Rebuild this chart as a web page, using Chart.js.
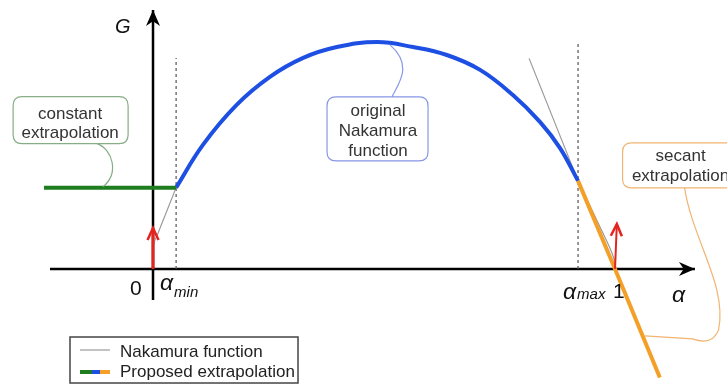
<!DOCTYPE html>
<html>
<head>
<meta charset="utf-8">
<script src="https://cdn.jsdelivr.net/npm/chart.js@4"></script>
<style>
  html, body { margin: 0; padding: 0; background: #fff; }
  #wrap { width: 727px; height: 385px; position: relative; }
</style>
</head>
<body>
<div id="wrap"><canvas id="grafico"></canvas></div>
<script>
// limites da extrapolacao
const alphaMin = 0.05;
const alphaMax = 0.92;

// funcao de Nakamura original (alpha, G)
const nakamuraAlpha = [0.05, 0.108, 0.181, 0.253, 0.325, 0.398, 0.485, 0.563, 0.636, 0.708, 0.779, 0.838, 0.881, 0.92];
const nakamuraG     = [0.36, 0.549, 0.726, 0.85, 0.934, 0.982, 1.004, 0.982, 0.947, 0.881, 0.77, 0.65, 0.535, 0.39];

// curva cinza de Nakamura perto das pontas
const grayLowAlpha  = [0, 0.004, 0.011, 0.05];
const grayLowG      = [0.093, 0.128, 0.159, 0.36];
const grayHighAlpha = [0.814, 0.92, 0.981, 0.987, 0.9935, 0.998, 1.0];
const grayHighG     = [0.932, 0.39, 0.128, 0.102, 0.071, 0.044, 0.013];

// extrapolacao constante
const constAlpha = [-0.236, alphaMin];
const constG     = [0.36, 0.36];

// extrapolacao secante (passa por alphaMax e por (1, 0))
const secantAlpha = [alphaMax, 1, 1.097];
const secantG     = [0.39, 0, -0.48];

// eixos
const xAxisAlpha = [-0.223, 1.173];
const xAxisG     = [0, 0];
const yAxisAlpha = [0, 0];
const yAxisG     = [-0.137, 1.146];

// linhas tracejadas
const dashMinG = [0, 0.934];
const dashMaxG = [0, 1.004];

// setas vermelhas (derivada infinita)
const arrowZeroAlpha = [0, 0];
const arrowZeroG     = [0, 0.181];
const arrowOneAlpha  = [1, 1.004];
const arrowOneG      = [0, 0.199];

function pts(xs, ys) {
  return xs.map((x, i) => ({ x: x, y: ys[i] }));
}

function linha(data, cor, largura, ordem, extra) {
  return Object.assign({
    data: data,
    showLine: true,
    borderColor: cor,
    backgroundColor: cor,
    borderWidth: largura,
    pointRadius: 0,
    fill: false,
    tension: 0,
    order: ordem,
  }, extra || {});
}

function ponta(ctx, x0, y0, x1, y1, comp, meia, cheia, cor) {
  const ang = Math.atan2(y1 - y0, x1 - x0);
  ctx.save();
  ctx.translate(x1, y1);
  ctx.rotate(ang);
  ctx.beginPath();
  if (cheia) {
    ctx.moveTo(0, 0);
    ctx.lineTo(-comp, -meia);
    ctx.lineTo(-comp * 0.7, 0);
    ctx.lineTo(-comp, meia);
    ctx.closePath();
    ctx.fillStyle = cor;
    ctx.fill();
  } else {
    ctx.moveTo(-comp, -meia);
    ctx.lineTo(0, 0);
    ctx.lineTo(-comp, meia);
    ctx.strokeStyle = cor;
    ctx.lineWidth = 2.5;
    ctx.lineJoin = "miter";
    ctx.stroke();
  }
  ctx.restore();
}

function caixa(ctx, x, y, w, h, r, cor) {
  ctx.beginPath();
  ctx.moveTo(x + r, y);
  ctx.lineTo(x + w - r, y);
  ctx.quadraticCurveTo(x + w, y, x + w, y + r);
  ctx.lineTo(x + w, y + h - r);
  ctx.quadraticCurveTo(x + w, y + h, x + w - r, y + h);
  ctx.lineTo(x + r, y + h);
  ctx.quadraticCurveTo(x, y + h, x, y + h - r);
  ctx.lineTo(x, y + r);
  ctx.quadraticCurveTo(x, y, x + r, y);
  ctx.closePath();
  ctx.fillStyle = "#fff";
  ctx.fill();
  ctx.strokeStyle = cor;
  ctx.lineWidth = 1.2;
  ctx.stroke();
}

function textos(ctx, linhas, cx, y0, passo) {
  ctx.fillStyle = "#333";
  ctx.font = "17px 'Liberation Sans', Arial, sans-serif";
  ctx.textAlign = "center";
  ctx.textBaseline = "alphabetic";
  linhas.forEach((t, i) => ctx.fillText(t, cx, y0 + i * passo));
}

const desenhos = {
  id: "desenhos",
  afterDatasetsDraw(chart) {
    const ctx = chart.ctx;
    const xs = chart.scales.x;
    const ys = chart.scales.y;
    const px = (a) => xs.getPixelForValue(a);
    const py = (g) => ys.getPixelForValue(g);

    // pontas dos eixos
    ponta(ctx, px(xAxisAlpha[0]), py(0), px(xAxisAlpha[1]), py(0), 16, 7, true, "#000");
    ponta(ctx, px(0), py(yAxisG[0]), px(0), py(yAxisG[1]), 16, 7, true, "#000");

    // pontas vermelhas
    ponta(ctx, px(0), py(0), px(0), py(arrowZeroG[1]), 12, 5.5, false, "#e5231f");
    ponta(ctx, px(arrowOneAlpha[0]), py(0), px(arrowOneAlpha[1]), py(arrowOneG[1]), 12, 5.5, false, "#e5231f");

    const x0 = px(0), y0 = py(0);
    const xMin = px(alphaMin), xMax = px(alphaMax), x1 = px(1);

    ctx.save();
    ctx.fillStyle = "#111";
    ctx.textAlign = "left";
    ctx.textBaseline = "alphabetic";
    ctx.font = "italic 20px 'Liberation Sans', Arial, sans-serif";
    ctx.fillText("G", x0 - 38, py(yAxisG[1]) + 23);

    ctx.font = "21px 'Liberation Sans', Arial, sans-serif";
    ctx.fillText("0", x0 - 23, y0 + 26);
    ctx.fillText("1", x1 - 2, y0 + 29);

    ctx.font = "italic 23px 'Liberation Sans', Arial, sans-serif";
    ctx.fillText("\u03b1", xMin - 16, y0 + 21);
    ctx.fillText("\u03b1", xMax - 15, y0 + 30);
    ctx.fillText("\u03b1", px(xAxisAlpha[1]) - 23, y0 + 33);
    ctx.font = "italic 15px 'Liberation Sans', Arial, sans-serif";
    ctx.fillText("min", xMin - 2, y0 + 28);
    ctx.fillText("max", xMax - 1, y0 + 30);
    ctx.restore();

    ctx.save();
    // balao: extrapolacao constante
    const cA = px(-0.108), cG = py(constG[0]);
    ctx.strokeStyle = "#86ad86";
    ctx.lineWidth = 1.2;
    ctx.beginPath();
    ctx.moveTo(cA - 6, cG - 44);
    ctx.bezierCurveTo(cA + 10, cG - 38, cA + 16, cG - 14, cA, cG - 1);
    ctx.stroke();
    caixa(ctx, cA - 90, cG - 91, 115, 47, 9, "#86ad86");
    textos(ctx, ["constant", "extrapolation"], cA - 33, cG - 69, 19);

    // balao: funcao de Nakamura original
    const nA = px(0.513), nG = py(0.996);
    ctx.strokeStyle = "#8797e6";
    ctx.beginPath();
    ctx.moveTo(nA + 2, nG + 53);
    ctx.bezierCurveTo(nA + 8, nG + 40, nA + 24, nG + 22, nA, nG + 1);
    ctx.stroke();
    caixa(ctx, nA - 63, nG + 53, 101, 64, 9, "#8797e6");
    textos(ctx, ["original", "Nakamura", "function"], nA - 12, nG + 72, 20);

    // balao: extrapolacao secante
    const sA = px(1.064), sG = py(-0.296);
    ctx.strokeStyle = "#f1b472";
    ctx.beginPath();
    ctx.moveTo(sA + 40, sG - 148);
    ctx.bezierCurveTo(sA + 48, sG - 96, sA + 83, sG - 50, sA + 74, sG - 6);
    ctx.quadraticCurveTo(sA + 68, sG + 10, sA + 48, sG + 3);
    ctx.lineTo(sA, sG);
    ctx.stroke();
    caixa(ctx, sA - 22, sG - 193, 130, 45, 9, "#f1b472");
    textos(ctx, ["secant", "extrapolation"], sA + 36, sG - 175, 20);

    // legenda
    ctx.fillStyle = "#fff";
    ctx.fillRect(70, 337, 228, 46);
    ctx.strokeStyle = "#444";
    ctx.lineWidth = 1.5;
    ctx.strokeRect(70, 337, 228, 46);
    ctx.strokeStyle = "#999";
    ctx.lineWidth = 1.2;
    ctx.beginPath();
    ctx.moveTo(80, 350);
    ctx.lineTo(110, 350);
    ctx.stroke();
    ctx.lineWidth = 4;
    [["#1e7d1e", 80, 92], ["#1d4fe3", 92, 100], ["#f4a028", 100, 110]].forEach((s) => {
      ctx.strokeStyle = s[0];
      ctx.beginPath();
      ctx.moveTo(s[1], 372);
      ctx.lineTo(s[2], 372);
      ctx.stroke();
    });
    ctx.fillStyle = "#222";
    ctx.font = "17px 'Liberation Sans', Arial, sans-serif";
    ctx.textAlign = "left";
    ctx.textBaseline = "middle";
    ctx.fillText("Nakamura function", 120, 352);
    ctx.fillText("Proposed extrapolation", 120, 372);
    ctx.restore();
  },
};

const ctx = document.getElementById("grafico").getContext("2d");

new Chart(ctx, {
  type: "scatter",
  data: {
    datasets: [
      linha(pts(arrowZeroAlpha, arrowZeroG), "#e5231f", 3, 0),
      linha(pts(arrowOneAlpha, arrowOneG), "#e5231f", 2, 0),
      linha(pts(secantAlpha, secantG), "#f4a028", 4, 1),
      linha(pts(constAlpha, constG), "#1e7d1e", 4, 1),
      linha(pts(nakamuraAlpha, nakamuraG), "#1d4fe3", 4, 1, { tension: 0.4 }),
      linha(pts(grayLowAlpha, grayLowG), "#9a9a9a", 1.2, 2),
      linha(pts(grayHighAlpha, grayHighG), "#9a9a9a", 1.2, 2),
      linha(pts([alphaMin, alphaMin], dashMinG), "#555", 1.2, 3, { borderDash: [3, 3] }),
      linha(pts([alphaMax, alphaMax], dashMaxG), "#555", 1.2, 3, { borderDash: [3, 3] }),
      linha(pts(xAxisAlpha, xAxisG), "#000", 2.5, 4),
      linha(pts(yAxisAlpha, yAxisG), "#000", 2.5, 4),
    ],
  },
  options: {
    responsive: true,
    maintainAspectRatio: false,
    animation: false,
    events: [],
    layout: { padding: 0 },
    plugins: {
      legend: { display: false },
      tooltip: { enabled: false },
    },
    scales: {
      x: { type: "linear", min: -0.3312, max: 1.2424, display: false },
      y: { type: "linear", min: -0.5133, max: 1.1903, display: false },
    },
  },
  plugins: [desenhos],
});
</script>
</body>
</html>
